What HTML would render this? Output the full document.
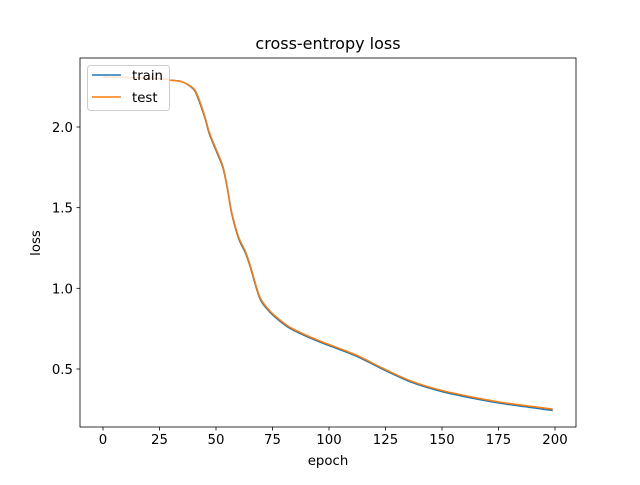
<!DOCTYPE html>
<html><head><meta charset="utf-8"><style>
body{margin:0;background:#fff;}
svg text{font-family:"DejaVu Sans","Liberation Sans",sans-serif;}
</style></head><body>
<svg id="chart" width="640" height="480" viewBox="0 0 640 480" xmlns="http://www.w3.org/2000/svg">
<rect width="640" height="480" fill="#fff"/>
<g id="plot"></g>
</svg>
<script>
const epochs=[0,25,30,35,40,42,45,47,50,53,55,57,60,63,65,68,70,74,78,83,92,100,112,125,137,150,165,177,199];
const trainLoss=[2.31,2.30,2.29,2.28,2.235,2.18,2.06,1.96,1.855,1.75,1.62,1.46,1.31,1.22,1.14,0.995,0.92,0.85,0.80,0.75,0.69,0.645,0.58,0.49,0.415,0.36,0.315,0.285,0.243];
const testLoss=[2.31,2.30,2.29,2.28,2.24,2.19,2.07,1.97,1.865,1.76,1.63,1.47,1.32,1.23,1.15,1.005,0.93,0.858,0.808,0.757,0.697,0.652,0.587,0.497,0.422,0.367,0.322,0.292,0.252];
const xTicks=[0,25,50,75,100,125,150,175,200];
const yTicks=[0.5,1.0,1.5,2.0];
const yTickLabels=["0.5","1.0","1.5","2.0"];
const L=80,R=576,T=58,B=427;
const sx=v=>103+(v-0)*(452/200);
const sy=v=>127+(2.0-v)*(242/1.5);
const g=document.getElementById('plot');
const NS='http://www.w3.org/2000/svg';
function mk(tag,attrs,parent){const e=document.createElementNS(NS,tag);for(const k in attrs)e.setAttribute(k,attrs[k]);(parent||g).appendChild(e);return e;}
function line(xs,ys,color,name){
  const pts=xs.map((x,i)=>[sx(x),sy(ys[i])]);
  let d='M'+pts[0][0]+','+pts[0][1];
  for(let i=0;i<pts.length-1;i++){
    const p0=pts[Math.max(0,i-1)],p1=pts[i],p2=pts[i+1],p3=pts[Math.min(pts.length-1,i+2)];
    const c1x=p1[0]+(p2[0]-p0[0])/6,c1y=p1[1]+(p2[1]-p0[1])/6;
    const c2x=p2[0]-(p3[0]-p1[0])/6,c2y=p2[1]-(p3[1]-p1[1])/6;
    d+=' C'+c1x+','+c1y+' '+c2x+','+c2y+' '+p2[0]+','+p2[1];
  }
  const p=mk('path',{d:d,fill:'none',stroke:color,'stroke-width':1.5});
  
  
}
line(epochs,trainLoss,'#1f77b4','train-line');
line(epochs,testLoss,'#ff7f0e','test-line');
const frame=mk('rect',{x:L,y:T,width:R-L,height:B-T,fill:'none',stroke:'#000','stroke-width':0.8});


xTicks.forEach(t=>{
  const x=sx(t);
  mk('line',{x1:x,x2:x,y1:B,y2:B+3.5,stroke:'#000','stroke-width':0.8});
  const tx=mk('text',{x:x,y:B+17,'text-anchor':'middle','font-size':'13.3px',fill:'#000'});
  tx.textContent=t;
  
  
});
yTicks.forEach((t,i)=>{
  const y=sy(t);
  mk('line',{x1:L-3.5,x2:L,y1:y,y2:y,stroke:'#000','stroke-width':0.8});
  const tx=mk('text',{x:L-7,y:y+5,'text-anchor':'end','font-size':'13.3px',fill:'#000'});
  tx.textContent=yTickLabels[i];
  
  
});
const title=mk('text',{x:328,y:49,'text-anchor':'middle','font-size':'16px',fill:'#000'});
title.textContent='cross-entropy loss';


const xl=mk('text',{x:328,y:465,'text-anchor':'middle','font-size':'13.3px',fill:'#000'});
xl.textContent='epoch';


const yl=mk('text',{x:0,y:0,'text-anchor':'middle','font-size':'13.3px',fill:'#000',transform:'translate(40,243) rotate(-90)'});
yl.textContent='loss';


const lg=mk('g',{});


mk('rect',{x:87.5,y:65.5,width:82,height:45,rx:3,fill:'#fff','fill-opacity':0.8,stroke:'#ccc','stroke-width':1},lg);
mk('line',{x1:92,x2:121,y1:75,y2:75,stroke:'#1f77b4','stroke-width':1.5},lg);
mk('line',{x1:92,x2:121,y1:97,y2:97,stroke:'#ff7f0e','stroke-width':1.5},lg);
const t1=mk('text',{x:132,y:80,'font-size':'13.3px',fill:'#000'},lg);t1.textContent='train';


const t2=mk('text',{x:132,y:102,'font-size':'13.3px',fill:'#000'},lg);t2.textContent='test';


</script>
</body></html>
